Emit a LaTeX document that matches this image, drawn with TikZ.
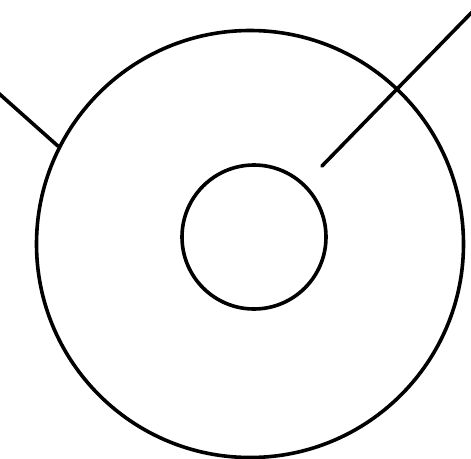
\documentclass[tikz,border=0pt]{standalone}
\begin{document}
\begin{tikzpicture}[x=1pt,y=-1pt,
  ring/.style={circle,draw=black,line width=3.6pt,inner sep=0pt},
  wire/.style={draw=black,line width=3.6pt,line cap=round}]
\useasboundingbox (0,0) rectangle (471,458);
\node[ring,minimum size=427pt] (big) at (250,244) {};
\node[ring,minimum size=144pt] (small) at (254,237) {};
\coordinate (lend) at (-5,90);
\coordinate (rin) at (322,166);
\coordinate (rout) at (476,8);
\draw[wire] (lend) -- (big.153);
\draw[wire] (rin) -- (rout);
\end{tikzpicture}
\end{document}
